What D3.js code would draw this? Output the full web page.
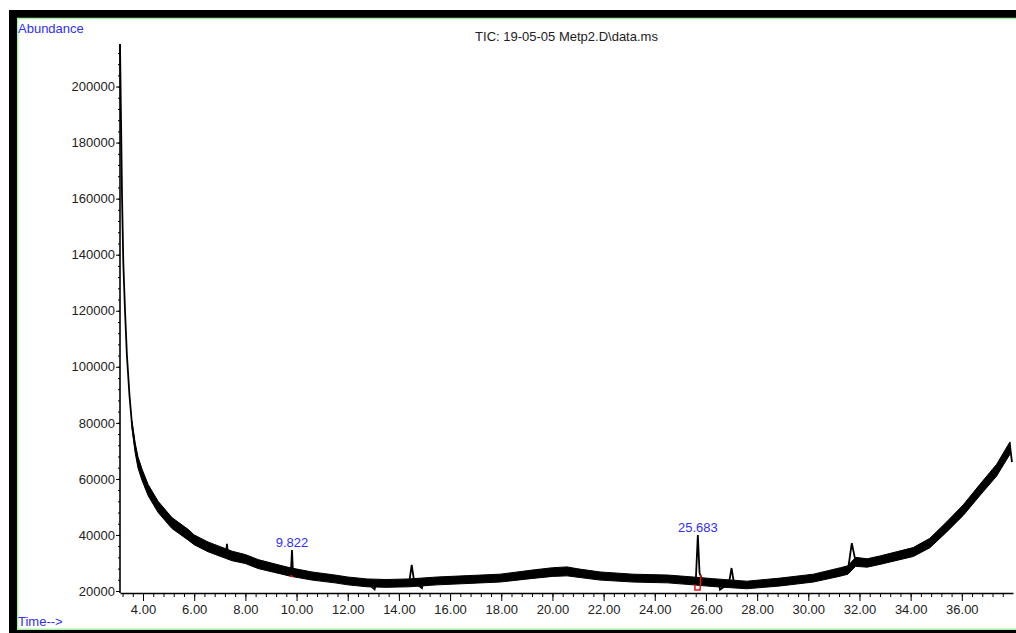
<!DOCTYPE html>
<html>
<head>
<meta charset="utf-8">
<script src="https://cdn.jsdelivr.net/npm/d3@7"></script>
<style>
    body { margin: 0; background: #fff; }
    svg { display: block; font-family: "Liberation Sans", Arial, sans-serif; }
    .axis text { font-size: 13px; fill: #222; }
    .axis path, .axis line { stroke: #000; }
    .blue { fill: #2f2ff8; font-size: 13px; }
</style>
</head>
<body>
<svg id="chart" width="1016" height="633"></svg>
<script>
/* data */
const title = 'TIC: 19-05-05 Metp2.D\\data.ms';
const xTicks = [4, 6, 8, 10, 12, 14, 16, 18, 20, 22, 24, 26, 28, 30, 32, 34, 36];
const yTicks = [20000, 40000, 60000, 80000, 100000, 120000, 140000, 160000, 180000, 200000];

// centre of the trace, with the spikes
const traceTime = [3.10, 3.14, 3.18, 3.23, 3.30, 3.37, 3.47, 3.57, 3.69, 3.80, 3.96, 4.20, 4.59, 5.13,
    5.76, 6.00, 6.54, 7.24, 7.28, 7.32, 7.48, 8.00, 8.50, 9.43, 9.78, 9.822, 9.86, 10.6, 11.5, 12.0,
    12.75, 13.05, 13.1, 13.5, 14.4, 14.5, 14.6, 14.9, 14.95, 15.5, 16.5, 17.95, 19.24, 20.0, 20.57,
    21.0, 21.86, 23.15, 24.5, 25.5, 25.6, 25.683, 25.75, 25.85, 26.27, 26.5, 26.55, 26.9, 27.0, 27.1,
    27.6, 28.9, 30.2, 31.25, 31.55, 31.7, 31.85, 32.3, 32.8, 34.1, 34.75, 35.4, 36.06, 36.7, 37.36,
    37.88, 37.96];
const traceAbund = [215000, 187900, 160500, 136900, 119100, 104100, 89900, 79200, 71300, 66000, 61400,
    56000, 49900, 44200, 40000, 38200, 35700, 33400, 36800, 33200, 32500, 31400, 29600, 27500, 26800,
    34600, 26500, 25300, 24300, 23600, 22900, 20600, 22700, 22700, 22900, 29300, 23200, 21000, 23000,
    23600, 24000, 24600, 26000, 26800, 27000, 26400, 25300, 24600, 24300, 23600, 23000, 40000, 26400,
    24000, 23000, 22800, 20500, 22800, 28200, 22500, 22100, 23200, 24600, 26800, 27500, 37100, 30500,
    30000, 31000, 33900, 37100, 42800, 48900, 56000, 63100, 72000, 66000];

// noise band of the baseline (low / high edge)
const bandTime = [3.57, 3.69, 3.80, 3.96, 4.20, 4.59, 5.13, 5.76, 6.00, 6.54, 7.48, 8.00, 8.50, 9.43,
    9.75, 10.6, 11.5, 12.0, 12.75, 13.5, 14.4, 15.5, 16.5, 17.95, 19.24, 20.0, 20.57, 21.0, 21.86,
    23.15, 24.5, 25.5, 26.27, 27.6, 28.9, 30.2, 31.25, 31.55, 31.85, 32.3, 32.8, 34.1, 34.75, 35.4,
    36.06, 36.7, 37.36, 37.88];
const bandLow = [78000, 69500, 64000, 59500, 54000, 48000, 42300, 38200, 36500, 34000, 30800, 29800,
    28000, 26000, 25300, 23900, 22900, 22200, 21500, 21300, 21500, 22200, 22600, 23200, 24500, 25200,
    25400, 24900, 23900, 23200, 22900, 22200, 21600, 20800, 21800, 23200, 25300, 26000, 28800, 28500,
    29500, 32300, 35400, 41000, 47000, 54000, 61000, 68800];
const bandHigh = [80500, 73000, 68000, 63500, 58000, 52000, 46200, 42000, 40000, 37500, 34200, 33000,
    31200, 29000, 28300, 26800, 25700, 25000, 24300, 24100, 24300, 25000, 25400, 26000, 27500, 28300,
    28600, 27900, 26800, 26000, 25700, 25000, 24400, 23500, 24600, 26000, 28300, 29000, 32000, 31500,
    32500, 35500, 38800, 44600, 50800, 58000, 65200, 73200];

// integrated peaks and their baselines (red)
const peakTime = [9.822, 25.683];
const peakAbund = [34600, 40000];
const base1Time = [9.76, 9.86];
const base1Abund = [25600, 25000];
const base2Time = [25.57, 25.57, 25.77, 25.80];
const base2Abund = [22300, 20400, 20400, 25800];

const svg = d3.select('#chart');
const x = d3.scaleLinear().domain([3.1, 38.0]).range([120, 1013]);
const y = d3.scaleLinear().domain([20000, 215000]).range([591, 44.5]);
const xAxisY = 593;

/* frame */
svg.append('rect').attr('x', 9).attr('y', 10).attr('width', 1007).attr('height', 8).attr('fill', '#000');
svg.append('rect').attr('x', 9).attr('y', 10).attr('width', 8).attr('height', 623).attr('fill', '#000');
svg.append('rect').attr('x', 9).attr('y', 630).attr('width', 1007).attr('height', 3).attr('fill', '#000');
svg.append('line').attr('x1', 17).attr('x2', 1016).attr('y1', 18.5).attr('y2', 18.5)
    .attr('stroke', '#a8f0a8').attr('stroke-width', 1.5);
svg.append('line').attr('x1', 17.7).attr('x2', 17.7).attr('y1', 18).attr('y2', 630)
    .attr('stroke', '#a8f0a8').attr('stroke-width', 1.5);
svg.append('line').attr('x1', 17).attr('x2', 1016).attr('y1', 629.2).attr('y2', 629.2)
    .attr('stroke', '#a8f0a8').attr('stroke-width', 1.5);

/* axes */
let yAxis = svg.append('g').attr('class', 'axis').attr('transform', 'translate(120,0)')
    .call(d3.axisLeft(y).tickValues(yTicks).tickSize(4).tickSizeOuter(0).tickPadding(1)
        .tickFormat(d3.format('d')));
yAxis.select('.domain').attr('d', 'M0,44V' + xAxisY).attr('stroke-width', 1.6);
svg.append('g').attr('class', 'axis').attr('transform', 'translate(120,0)')
    .call(d3.axisLeft(y).tickValues(d3.range(24000, 215000, 4000)).tickSize(2).tickFormat(''))
    .select('.domain').remove();

svg.append('g').attr('class', 'axis').attr('transform', 'translate(0,' + xAxisY + ')')
    .call(d3.axisBottom(x).tickValues(d3.range(3.2, 38, 0.4)).tickSize(4).tickFormat(''))
    .select('.domain').remove();
let xAxis = svg.append('g').attr('class', 'axis').attr('transform', 'translate(0,' + xAxisY + ')')
    .call(d3.axisBottom(x).tickValues(xTicks).tickSize(8).tickSizeOuter(0).tickPadding(4)
        .tickFormat(d3.format('.2f')));
xAxis.select('.domain').attr('stroke-width', 1.3);

/* noise band + trace */
const band = bandTime.map((t, i) => [t, bandLow[i], bandHigh[i]]);
svg.append('path').datum(band)
    .attr('d', d3.area().x(d => x(d[0])).y0(d => y(d[1])).y1(d => y(d[2])))
    .attr('fill', '#000').attr('stroke', '#000').attr('stroke-width', 1);

const trace = traceTime.map((t, i) => [t, traceAbund[i]]);
svg.append('path').datum(trace)
    .attr('d', d3.line().x(d => x(d[0])).y(d => y(d[1])))
    .attr('fill', 'none').attr('stroke', '#000').attr('stroke-width', 1.8);

/* peak baselines */
[[base1Time, base1Abund], [base2Time, base2Abund]].forEach(b => {
    svg.append('path').datum(b[0].map((t, i) => [t, b[1][i]]))
        .attr('d', d3.line().x(d => x(d[0])).y(d => y(d[1])))
        .attr('fill', 'none').attr('stroke', '#f01010').attr('stroke-width', 1.5);
});

/* labels */
svg.selectAll('text.peak').data(peakTime).enter().append('text').attr('class', 'peak blue')
    .attr('x', d => x(d)).attr('y', (d, i) => y(peakAbund[i]) - 3)
    .attr('text-anchor', 'middle').text(d => d.toFixed(3));

svg.append('text').attr('class', 'blue').attr('x', 18).attr('y', 33).text('Abundance');
svg.append('text').attr('class', 'blue').attr('x', 18).attr('y', 626).text('Time-->');
svg.append('text').attr('x', x.range()[0] / 2 + x.range()[1] / 2).attr('y', 41)
    .attr('text-anchor', 'middle').attr('font-size', 13).attr('fill', '#222').text(title);
</script>
</body>
</html>
